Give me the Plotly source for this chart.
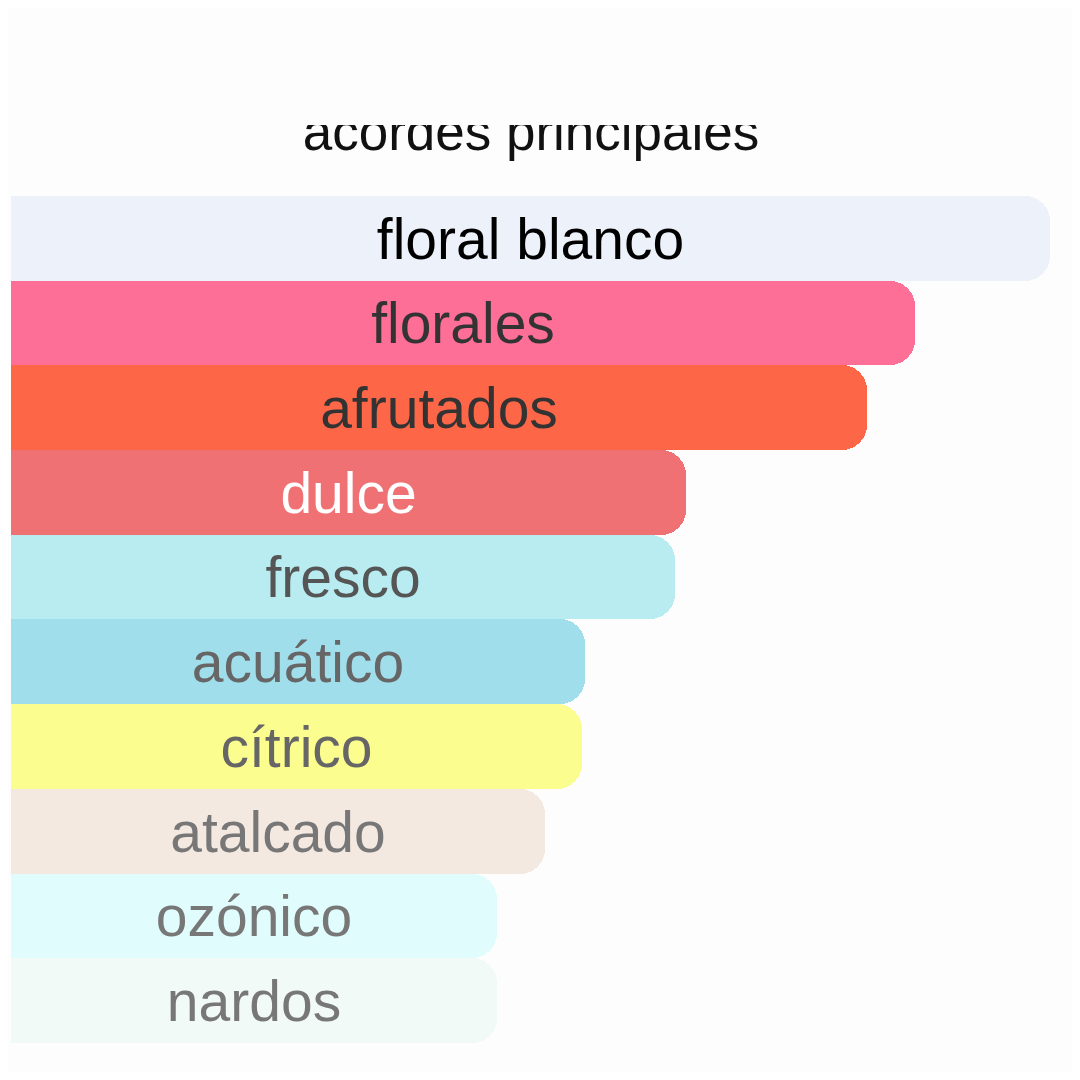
import plotly.graph_objects as go

acordes = ["floral blanco", "florales", "afrutados", "dulce", "fresco",
           "acuático", "cítrico", "atalcado", "ozónico", "nardos"]
intensidad = [100, 87, 82.4, 65, 63.9, 55.2, 55, 51.4, 46.8, 46.8]
colores = ["#EDF2FA", "#FE6F97", "#FD6748", "#F07174", "#B9ECF0",
           "#A1DEEC", "#FCFD8F", "#F4E9E1", "#E0FCFC", "#F1FAF6"]
colores_texto = ["#000000", "#333333", "#333333", "#FFFFFF", "#555555",
                 "#666666", "#666666", "#777777", "#777777", "#777777"]

titulo = "acordes principales"

n = len(acordes)
pos = [n - 1 - i for i in range(n)]  # primero arriba

fig = go.Figure()

fig.add_trace(
    go.Bar(
        x=intensidad,
        y=pos,
        orientation="h",
        width=1,
        text=acordes,
        textposition="inside",
        insidetextanchor="middle",
        textangle=0,
        textfont=dict(family="Arial, Liberation Sans", size=57, color=colores_texto),
        marker=dict(color=colores, cornerradius=25, line=dict(width=0)),
        hoverinfo="skip",
    )
)

# titulo como texto dentro del area, recortado arriba
fig.add_trace(
    go.Scatter(
        x=[50.05],
        y=[10.2],
        mode="text",
        text=[titulo],
        textposition="middle center",
        textfont=dict(family="Arial, Liberation Sans", size=53, color="#111111"),
        cliponaxis=True,
        hoverinfo="skip",
    )
)

fig.update_layout(
    width=1064,
    height=1064,
    margin=dict(l=3, r=22, t=117, b=29),
    paper_bgcolor="#FDFDFD",
    plot_bgcolor="#FDFDFD",
    showlegend=False,
    bargap=0,
    xaxis=dict(range=[0, 100], visible=False),
    yaxis=dict(range=[-0.5, 10.338], visible=False),
)

fig.write_html("out.html")
